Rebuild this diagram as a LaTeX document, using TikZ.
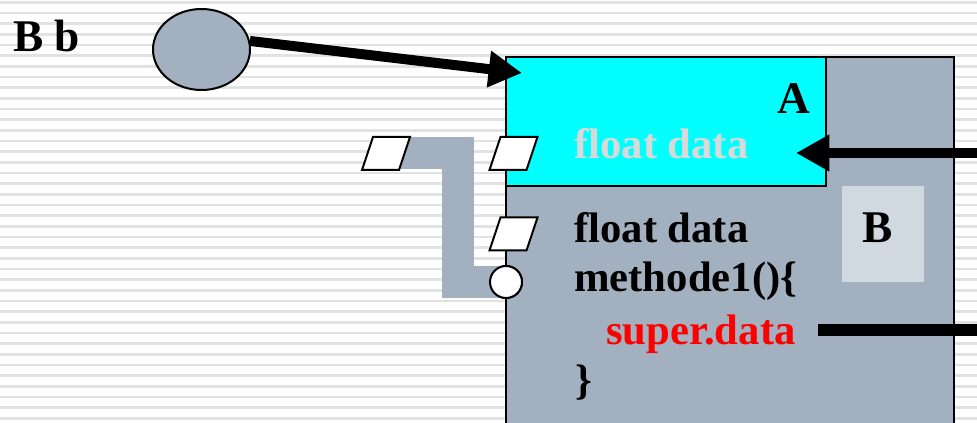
\documentclass[tikz,border=0pt]{standalone}
\usepackage{fontspec}
\setmainfont{Liberation Serif}
\usetikzlibrary{arrows.meta,shapes.geometric}

\definecolor{slate}{HTML}{A2B0BF}
\definecolor{aqua}{HTML}{00FFFF}
\definecolor{pale}{HTML}{D0D8E0}
\definecolor{ghost}{HTML}{D9D9D9}
\definecolor{rule}{HTML}{E2E2E2}

\begin{document}
\begin{tikzpicture}[x=0.75pt,y=-0.75pt,
  stripe/.style={draw=rule, line width=1.9pt},
  txt/.style={inner sep=0pt, anchor=base west, font=\fontsize{32}{38}\selectfont\bfseries},
  big/.style={txt, font=\fontsize{34}{40}\selectfont\bfseries},
  port/.pic={\draw[line width=1.5pt, fill=white, line join=miter]
    (-13,-16.5) -- (24,-16.5) -- (13,16.5) -- (-24,16.5) -- cycle;},
  hole/.style={circle, draw, line width=1.5pt, fill=white, minimum size=24pt, inner sep=0pt},
  band/.style={draw=slate, line width=24pt},
  ptr/.style={line width=7.5pt, -{Triangle[length=25pt,width=26pt]}},
  bar/.style={line width=9pt}]
\useasboundingbox (0,0) rectangle (977,423);
\clip (0,0) rectangle (977,423);

% lined paper
\foreach \k [evaluate=\k as \yy using 2.3+10.67*\k] in {0,...,39}
  \draw[stripe] (0,\yy) -- (977,\yy);

% object B with its A part
\draw[fill=slate, line width=1.5pt] (506,57) rectangle (954,440);
\draw[fill=aqua, line width=1.5pt] (506,57) rectangle (826,186);
\node[fill=pale, minimum width=61.5pt, minimum height=72pt, inner sep=0pt] (pbox) at (883,234) {};

% reference b
\node[big] (lblb) at (13,52) {B b};
\node[ellipse, draw, line width=1.5pt, fill=slate, minimum width=72.75pt, minimum height=60.75pt] (refb) at (201.5,49.5) {};

% interface ports and the link between them
\coordinate (p1) at (386,153.5);
\coordinate (p2) at (513.5,153.5);
\coordinate (p3) at (513.5,234);
\coordinate (bend) at (458,282);
\node[hole] (h1) at (506,282) {};
\draw[band] (p1) -| (bend) -- (h1.center);
\pic at (p1) {port};
\pic at (p2) {port};
\pic at (p3) {port};
\node[hole] at (h1) {};

% texts
\node[big] (lblA) at (777,114) {A};
\node[big] (lblB) at (862,243) {B};
\node[txt, text=ghost] (fA) at (574,159) {float data};
\node[txt] (fB) at (574,243) {float data};
\node[txt] (meth) at (574,292) {methode1()\{};
\node[txt, text=red] (sup) at (606,345) {super.data};
\node[txt] (close) at (575,395) {\}};

% pointers
\coordinate (tipA) at (522,73);
\coordinate (inA) at (985,153);
\coordinate (tipF) at (796,153);
\coordinate (supL) at (818,330);
\coordinate (supR) at (985,330);
\draw[ptr] (refb.10) -- (tipA);
\draw[ptr] (inA) -- (tipF);
\draw[bar] (supL) -- (supR);
\end{tikzpicture}
\end{document}
